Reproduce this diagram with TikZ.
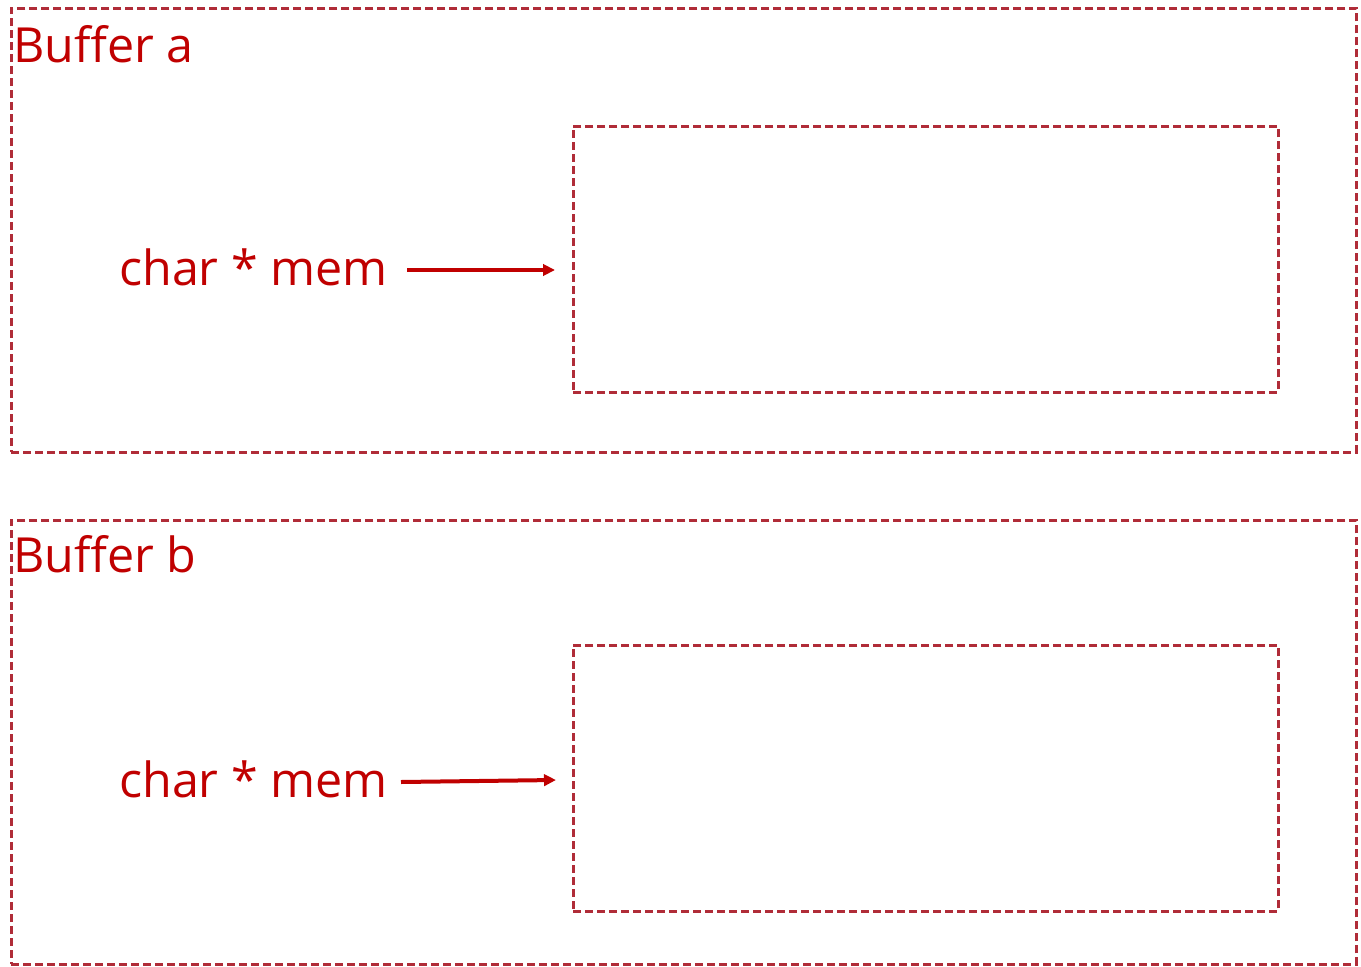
\documentclass[tikz,border=0pt]{standalone}
\usepackage{fontspec}
\setmainfont{Open Sans}
\usetikzlibrary{arrows.meta}
\definecolor{txtred}{HTML}{C00000}
\definecolor{boxred}{HTML}{B02C38}
\begin{document}
\begin{tikzpicture}[x=0.75pt,y=-0.75pt,
  box/.style={draw=boxred,line width=2.2pt,dash pattern=on 6pt off 3pt,anchor=north west,inner sep=0pt},
  lbl/.style={text=txtred,font=\fontsize{36.3}{44}\selectfont,inner sep=0pt,anchor=base west},
  ptr/.style={draw=txtred,line width=3pt,-{Triangle[length=9pt,width=8.5pt]}}]
\useasboundingbox (0,0) rectangle (1361,967);
% Buffer a
\node[box,minimum width=1345*0.75pt,minimum height=444*0.75pt] (ba) at (10,7) {};
\node[lbl] (ta) at (13,62) {Buffer a};
\node[box,minimum width=705*0.75pt,minimum height=266*0.75pt] (ma) at (572,125) {};
\node[lbl] (pa) at (119,285) {char * mem};
\coordinate (sa) at (407,270);
\coordinate (ea) at (555,270);
\draw[ptr] (sa) -- (ea);
% Buffer b
\node[box,minimum width=1345*0.75pt,minimum height=444*0.75pt] (bb) at (10,519) {};
\node[lbl] (tb) at (13,572) {Buffer b};
\node[box,minimum width=705*0.75pt,minimum height=266*0.75pt] (mb) at (572,644) {};
\node[lbl] (pb) at (119,797) {char * mem};
\coordinate (sb) at (401,782);
\coordinate (eb) at (556,780);
\draw[ptr] (sb) -- (eb);
\end{tikzpicture}
\end{document}
